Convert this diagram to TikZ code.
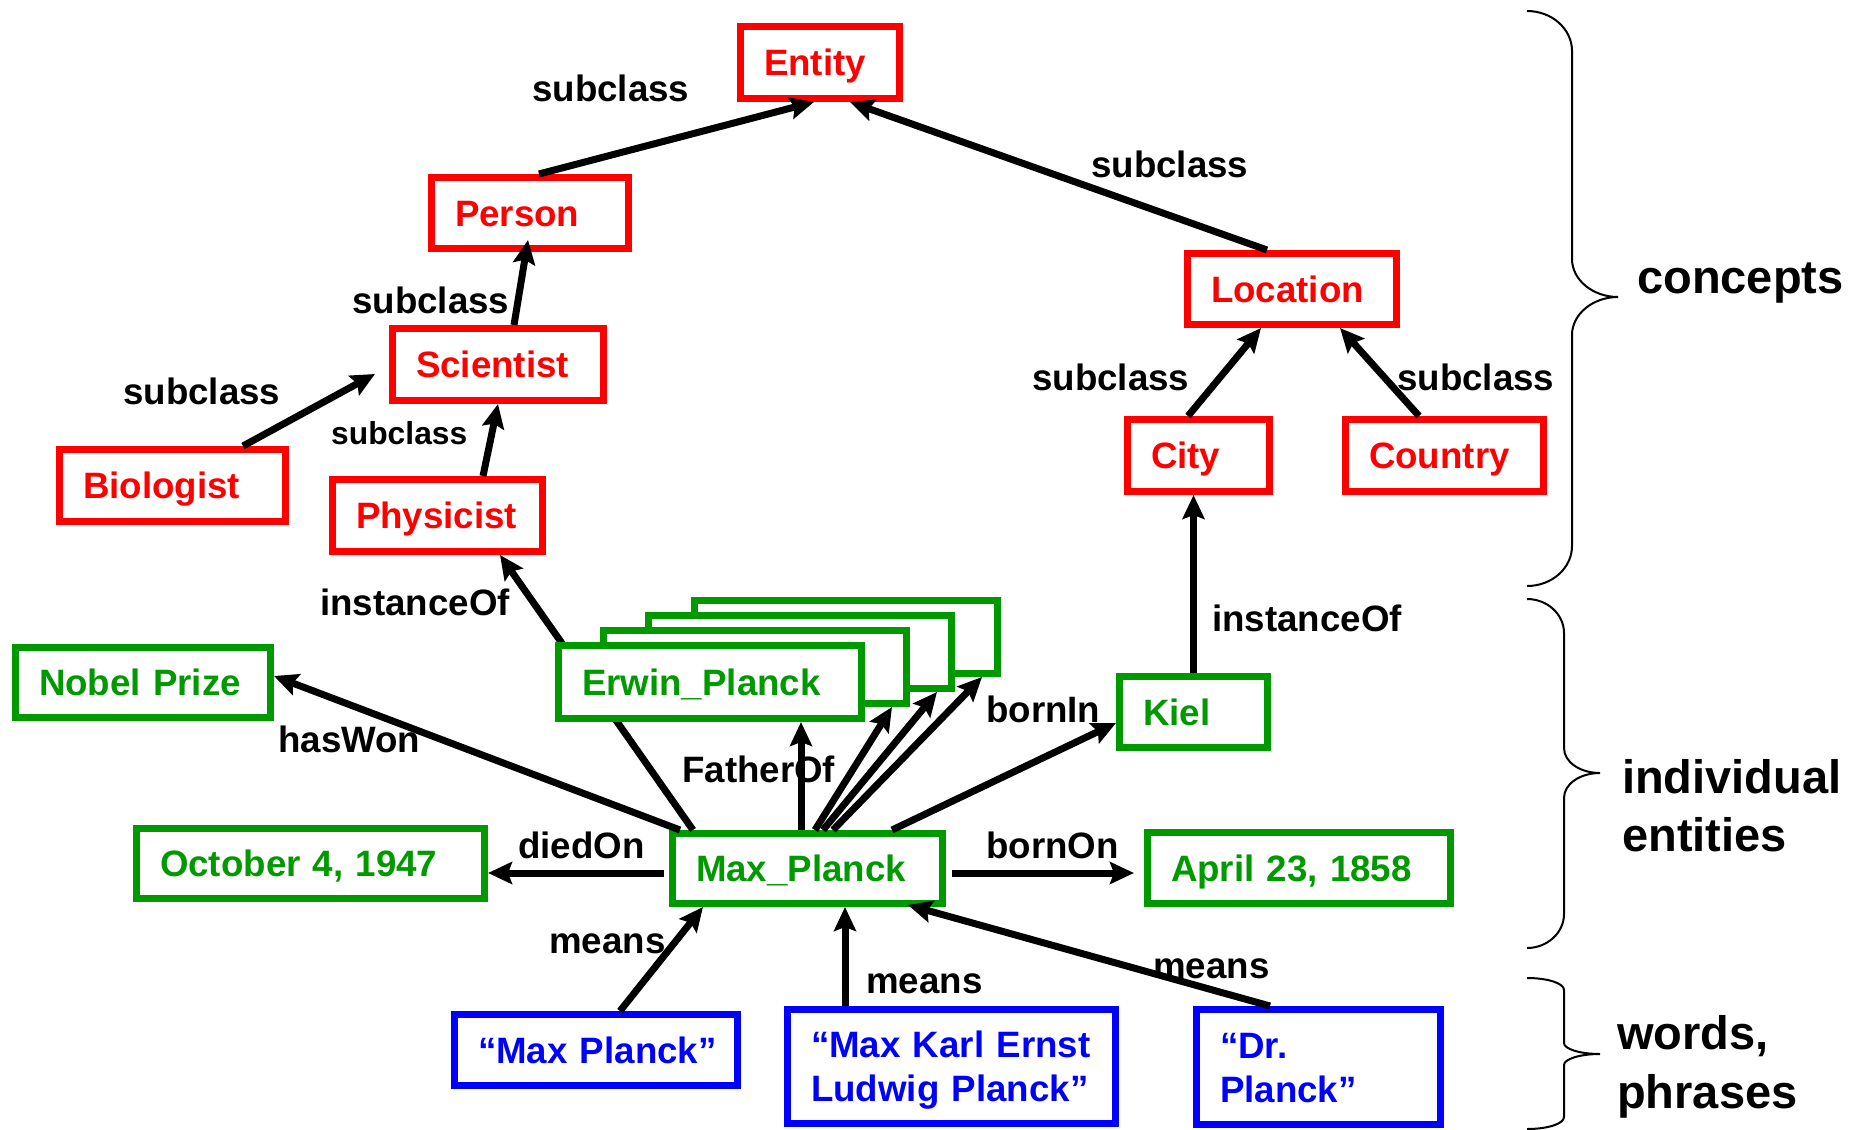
\documentclass[tikz,border=0pt]{standalone}
\usepackage{fontspec}
\setmainfont{Liberation Sans}
\usetikzlibrary{arrows.meta}
\definecolor{cred}{RGB}{255,0,0}
\definecolor{cgreen}{RGB}{0,153,0}
\definecolor{cblue}{RGB}{0,0,255}

\begin{document}
\begin{tikzpicture}[x=1pt,y=-1pt,
  lbl/.style={font=\fontsize{36.7pt}{44pt}\selectfont\bfseries, inner sep=0pt, anchor=base west},
  smalllbl/.style={lbl, font=\fontsize{31.8pt}{38pt}\selectfont\bfseries},
  biglbl/.style={font=\fontsize{47pt}{58pt}\selectfont\bfseries, inner sep=0pt, anchor=base west},
  box/.style={draw, line width=7pt, fill=white, inner xsep=23.5pt, inner ysep=0pt, align=left,
     font=\fontsize{36.7pt}{44pt}\selectfont\bfseries, text height=26.3pt, text depth=0pt},
  concept/.style={box, draw=cred, text=cred},
  entity/.style={box, draw=cgreen, text=cgreen},
  word/.style={box, draw=cblue, text=cblue},
  conn/.style={line width=7pt, -{Stealth[length=24pt,width=22pt,inset=4pt]}},
  brace/.style={line width=2pt}
]
\useasboundingbox[fill=white] (0,0) rectangle (1856,1130);

% concepts
\node[concept, text width=112pt, minimum height=72pt] (entity) at (820,62.5) {Entity};
\node[concept, text width=150pt, minimum height=71pt] (person) at (530,213) {Person};
\node[concept, text width=164pt, minimum height=72pt] (scientist) at (498,364.5) {Scientist};
\node[concept, text width=179pt, minimum height=72pt] (biologist) at (172.5,485.5) {Biologist};
\node[concept, text width=163pt, minimum height=72pt] (physicist) at (437.5,515.5) {Physicist};
\node[concept, text width=162pt, minimum height=71pt] (location) at (1292,289) {Location};
\node[concept, text width=95pt, minimum height=72pt] (city) at (1198.5,455.5) {City};
\node[concept, text width=151pt, minimum height=72pt] (country) at (1444.5,455.5) {Country};

% individual entities
\node[entity, text width=208pt, minimum height=70pt] (nobel) at (143,682.5) {Nobel Prize};
\node[entity, text width=101pt, minimum height=71pt] (kiel) at (1193.5,712) {Kiel};
\node[entity, text width=223pt, minimum height=70pt] (max) at (807.5,868.5) {Max\_Planck};
\node[entity, text width=301pt, minimum height=70pt] (october) at (310.5,863.5) {October 4, 1947};
\node[entity, text width=256pt, minimum height=71pt] (april) at (1299,868) {April 23, 1858};

% words and phrases
\node[word, text width=236pt, minimum height=71pt] (w1) at (596,1050) {“Max~Planck”};
\node[word, text width=281pt, minimum height=114pt, text depth=44pt] (w2) at (951.5,1066) {“Max Karl Ernst\\Ludwig Planck”};
\node[word, text width=197pt, minimum height=115pt, text depth=44pt] (w3) at (1318.5,1067) {“Dr.\\Planck”};

% instanceOf link runs behind the stack of children
\draw[conn] ([xshift=-114.5pt]max.north) -- ([xshift=62.5pt]physicist.south);

% stack of children
\node[entity, text width=256pt, minimum height=73pt] (stackc) at (846,637) {};
\node[entity, text width=256pt, minimum height=73pt] (stackb) at (800,652) {};
\node[entity, text width=256pt, minimum height=73pt] (stacka) at (755,667) {};
\node[entity, text width=256pt, minimum height=73pt] (erwin) at (710,682) {Erwin\_Planck};

% subclass hierarchy
\draw[conn] ([xshift=9pt]person.north) -- ([xshift=-6pt]entity.south);
\draw[conn] ([xshift=-25pt]location.north) -- ([xshift=30pt]entity.south);
\draw[conn] ([xshift=16pt]scientist.north) -- ([xshift=-2pt,yshift=12pt]person.south);
\draw[conn] ([xshift=70.5pt]biologist.north) -- ([xshift=-14pt,yshift=-9.5pt]scientist.west);
\draw[conn] ([xshift=45.5pt]physicist.north) -- (scientist.south);
\draw[conn] (kiel.north) -- (kiel.north |- city.south);
\draw[conn] ([xshift=-10.5pt]city.north) -- ([xshift=-31pt]location.south);
\draw[conn] ([xshift=-25.5pt]country.north) -- ([xshift=48pt]location.south);

% relations of Max_Planck
\draw[conn] ([xshift=-127.5pt]max.north) -- ([yshift=6.5pt]nobel.east);
\draw[conn] ([xshift=-6.5pt]max.north) -- ([xshift=91pt]erwin.south);
\draw[conn] ([xshift=7.5pt]max.north) -- ([xshift=137pt]stacka.south);
\draw[conn] ([xshift=15.5pt]max.north) -- ([xshift=137pt]stackb.south);
\draw[conn] ([xshift=25.5pt]max.north) -- ([xshift=136pt]stackc.south);
\draw[conn] ([xshift=84.5pt]max.north) -- ([yshift=-11pt]kiel.west);
\draw[conn, shorten <=5pt] ([yshift=-4.5pt]max.west) -- ([yshift=-4.5pt]max.west -| october.east);
\draw[conn, shorten <=6pt, shorten >=10pt] ([yshift=-4.5pt]max.east) -- ([yshift=-4.5pt]max.east -| april.west);

% means
\draw[conn] ([xshift=24pt]w1.north) -- ([xshift=-104.5pt]max.south);
\draw[conn] ([xshift=-106.5pt]w2.north) -- ([xshift=-106.5pt]w2.north |- max.south);
\draw[conn] ([xshift=-48.5pt]w3.north) -- ([xshift=100.5pt,yshift=2pt]max.south);

% edge labels
\node[lbl] (ls1) at (532,101) {subclass};
\node[lbl] (ls2) at (352,313) {subclass};
\node[lbl] (ls3) at (123,404) {subclass};
\node[smalllbl] (ls4) at (331,444) {subclass};
\node[lbl] (ls5) at (1091,177) {subclass};
\node[lbl] (ls6) at (1032,390) {subclass};
\node[lbl] (ls7) at (1397,390) {subclass};
\node[lbl] (li1) at (320,615) {instanceOf};
\node[lbl] (li2) at (1212,631) {instanceOf};
\node[lbl] (lhw) at (278,752) {hasWon};
\node[lbl] (lfo) at (682,782) {FatherOf};
\node[lbl] (ldo) at (518,858) {diedOn};
\node[lbl] (lbi) at (986,722) {bornIn};
\node[lbl] (lbo) at (986,858) {bornOn};
\node[lbl] (lm1) at (549,953) {means};
\node[lbl] (lm2) at (866,993) {means};
\node[lbl] (lm3) at (1153,978) {means};

% layer braces
\draw[brace] (1527,11) .. controls (1552,11) and (1572,29) .. (1572,51) -- (1572,259)
  .. controls (1572,280) and (1593,297) .. (1618,297)
  .. controls (1593,297) and (1572,314) .. (1572,335) -- (1572,546)
  .. controls (1572,568) and (1552,586) .. (1527,586);
\draw[brace] (1527,599) .. controls (1547,599) and (1564,614) .. (1564,633) -- (1564,748)
  .. controls (1564,762) and (1580,773) .. (1600,773)
  .. controls (1580,773) and (1564,784) .. (1564,798) -- (1564,914)
  .. controls (1564,933) and (1547,948) .. (1527,948);
\draw[brace] (1527,978) .. controls (1547,978) and (1564,983) .. (1564,990) -- (1564,1043)
  .. controls (1564,1049) and (1580,1054) .. (1600,1054)
  .. controls (1580,1054) and (1564,1059) .. (1564,1065) -- (1564,1117)
  .. controls (1564,1124) and (1547,1129) .. (1527,1129);

% layer names
\node[biglbl] (lc) at (1637,293) {concepts};
\node[biglbl] (lie) at (1622,793) {individual};
\node[biglbl] (lie2) at (1622,851) {entities};
\node[biglbl] (lwp) at (1617,1049) {words,};
\node[biglbl] (lwp2) at (1617,1108) {phrases};
\end{tikzpicture}
\end{document}
